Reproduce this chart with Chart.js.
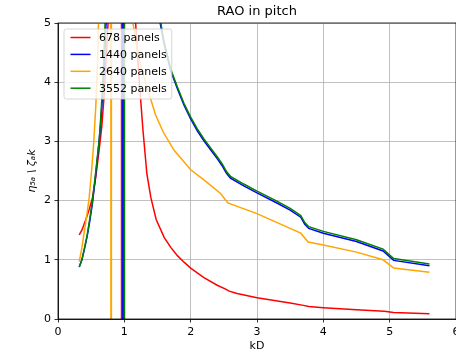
<!DOCTYPE html>
<html>
<head>
<meta charset="utf-8">
<script src="https://cdn.jsdelivr.net/npm/chart.js@4"></script>
<style>
  html, body { margin: 0; padding: 0; background: #fff; overflow: hidden; }
</style>
</head>
<body>
<canvas id="rao" width="456" height="358"></canvas>
<script>
// RAO in pitch, four mesh sizes
const kd678   = [0.32, 0.36, 0.42, 0.47, 0.52, 0.57, 0.62, 0.66, 0.70, 0.73, 0.755, 0.955, 0.96, 0.965, 1.17, 1.22, 1.28, 1.34, 1.40, 1.48, 1.60, 1.70, 1.80, 1.90, 2.00, 2.20, 2.40, 2.52, 2.58, 2.70, 3.00, 3.50, 3.70, 3.78, 4.00, 4.50, 4.92, 5.06, 5.60];
const rao678  = [1.42, 1.50, 1.68, 1.85, 2.05, 2.40, 2.85, 3.25, 3.85, 4.50, 5.00, 300, -300, 300, 5.00, 4.10, 3.20, 2.45, 2.05, 1.68, 1.38, 1.21, 1.07, 0.96, 0.86, 0.70, 0.57, 0.51, 0.47, 0.43, 0.36, 0.27, 0.23, 0.21, 0.19, 0.155, 0.13, 0.11, 0.09];

const kd1440  = [0.32, 0.36, 0.40, 0.44, 0.48, 0.52, 0.56, 0.60, 0.64, 0.67, 0.70, 0.725, 0.975, 0.98, 0.985, 1.54, 1.60, 1.70, 1.80, 1.90, 2.00, 2.10, 2.20, 2.30, 2.40, 2.48, 2.54, 2.60, 2.80, 3.00, 3.30, 3.50, 3.66, 3.72, 3.78, 4.00, 4.50, 4.90, 5.06, 5.60];
const rao1440 = [0.88, 1.00, 1.19, 1.40, 1.66, 1.96, 2.35, 2.78, 3.25, 3.75, 4.35, 5.00, 300, -300, 300, 5.00, 4.64, 4.19, 3.89, 3.61, 3.38, 3.18, 3.01, 2.86, 2.71, 2.58, 2.46, 2.38, 2.25, 2.13, 1.96, 1.84, 1.72, 1.60, 1.53, 1.45, 1.31, 1.15, 0.99, 0.90];

const kd2640  = [0.32, 0.36, 0.40, 0.44, 0.47, 0.51, 0.54, 0.57, 0.595, 0.61, 0.795, 0.80, 0.805, 1.13, 1.19, 1.25, 1.36, 1.47, 1.59, 1.75, 2.00, 2.20, 2.45, 2.52, 2.56, 3.00, 3.50, 3.66, 3.77, 4.00, 4.50, 4.90, 5.06, 5.60];
const rao2640 = [0.97, 1.20, 1.50, 1.80, 2.05, 2.55, 3.00, 3.60, 4.30, 5.00, 300, -300, 300, 5.00, 4.60, 4.25, 3.85, 3.45, 3.15, 2.85, 2.52, 2.35, 2.12, 2.02, 1.96, 1.78, 1.53, 1.45, 1.30, 1.25, 1.13, 1.00, 0.86, 0.79];

const kd3552  = [0.32, 0.36, 0.40, 0.44, 0.48, 0.52, 0.57, 0.62, 0.65, 0.68, 0.71, 0.995, 1.00, 1.005, 1.55, 1.60, 1.70, 1.80, 1.90, 2.00, 2.10, 2.20, 2.30, 2.40, 2.48, 2.54, 2.60, 2.80, 3.00, 3.30, 3.50, 3.66, 3.72, 3.78, 4.00, 4.50, 4.90, 5.06, 5.60];
const rao3552 = [0.88, 1.00, 1.20, 1.42, 1.70, 2.00, 2.50, 3.00, 3.50, 4.10, 5.00, 300, -300, 300, 5.00, 4.68, 4.22, 3.92, 3.64, 3.41, 3.21, 3.04, 2.89, 2.74, 2.61, 2.49, 2.41, 2.28, 2.16, 1.99, 1.87, 1.75, 1.63, 1.56, 1.48, 1.34, 1.18, 1.02, 0.93];

const seriesLabels = ['678 panels', '1440 panels', '2640 panels', '3552 panels'];
const xTicks = [0, 1, 2, 3, 4, 5, 6];
const yTicks = [0, 1, 2, 3, 4, 5];

const FONT = "'DejaVu Sans', sans-serif";
const pts = (xs, ys) => xs.map((x, i) => ({ x: x, y: ys[i] }));

// matplotlib-style frame + legend box inside the axes
const mplExtras = {
  id: 'mplExtras',
  afterDatasetsDraw(chart) {
    const { ctx, chartArea: a } = chart;
    ctx.save();
    ctx.strokeStyle = '#000';
    ctx.lineWidth = 0.8;
    ctx.strokeRect(a.left, a.top, a.right - a.left, a.bottom - a.top);

    const ds = chart.data.datasets;
    ctx.font = '11px ' + FONT;
    let tw = 0;
    ds.forEach(d => { tw = Math.max(tw, ctx.measureText(d.label).width); });
    const bx = a.left + 6, by = a.top + 6;
    const bw = 35 + tw + 5, bh = 70;
    ctx.beginPath();
    ctx.roundRect(bx, by, bw, bh, 2.5);
    ctx.fillStyle = 'rgba(255,255,255,0.8)';
    ctx.fill();
    ctx.strokeStyle = '#cccccc';
    ctx.lineWidth = 0.8;
    ctx.stroke();

    ctx.textBaseline = 'middle';
    ctx.fillStyle = '#000';
    ds.forEach((d, i) => {
      const yy = by + 8.5 + i * 16.9;
      ctx.beginPath();
      ctx.moveTo(bx + 6.5, yy);
      ctx.lineTo(bx + 26.5, yy);
      ctx.strokeStyle = d.borderColor;
      ctx.lineWidth = 1.5;
      ctx.stroke();
      ctx.fillText(d.label, bx + 35, yy + 0.5);
    });
    ctx.restore();
  }
};

new Chart(document.getElementById('rao'), {
  type: 'line',
  data: {
    datasets: [
      { label: seriesLabels[0], data: pts(kd678, rao678),   borderColor: '#ff0000', order: 4 },
      { label: seriesLabels[1], data: pts(kd1440, rao1440), borderColor: '#0000ff', order: 3 },
      { label: seriesLabels[2], data: pts(kd2640, rao2640), borderColor: '#ffa500', order: 2 },
      { label: seriesLabels[3], data: pts(kd3552, rao3552), borderColor: '#008000', order: 1 }
    ]
  },
  options: {
    responsive: false,
    animation: false,
    layout: { padding: 0 },
    elements: {
      point: { radius: 0, hoverRadius: 0 },
      line: { borderWidth: 1.5, tension: 0, fill: false }
    },
    plugins: {
      legend: { display: false },
      tooltip: { enabled: false },
      title: {
        display: true,
        text: 'RAO in pitch',
        fullSize: false,
        color: '#000',
        font: { family: FONT, size: 13, weight: 'normal' },
        padding: { top: 4.2, bottom: 3.2 }
      }
    },
    scales: {
      x: {
        type: 'linear',
        min: xTicks[0],
        max: xTicks[xTicks.length - 1],
        afterBuildTicks: s => { s.ticks = xTicks.map(v => ({ value: v })); },
        ticks: { color: '#000', padding: 3, font: { family: FONT, size: 11 } },
        grid: { color: '#b0b0b0', lineWidth: 0.8, tickColor: '#000', tickLength: 3.5, tickWidth: 0.8 },
        border: { display: true, color: '#000', width: 0.8 },
        title: { display: true, text: 'kD', color: '#000', font: { family: FONT, size: 11 }, padding: { top: 0, bottom: 5.4 } },
        afterFit: s => { s.height = 39; s.paddingRight = 0; }
      },
      y: {
        type: 'linear',
        min: yTicks[0],
        max: yTicks[yTicks.length - 1],
        afterBuildTicks: s => { s.ticks = yTicks.map(v => ({ value: v })); },
        ticks: { color: '#000', padding: 3.5, font: { family: FONT, size: 11 } },
        grid: { color: '#b0b0b0', lineWidth: 0.8, tickColor: '#000', tickLength: 3.5, tickWidth: 0.8 },
        border: { display: true, color: '#000', width: 0.8 },
        title: { display: true, text: 'η₅ₐ \\ ζₐk', color: '#000', font: { family: FONT, size: 11, style: 'italic' }, padding: { top: 26, bottom: 0 } },
        afterFit: s => { s.width = 58; }
      }
    }
  },
  plugins: [mplExtras]
});
</script>
</body>
</html>
